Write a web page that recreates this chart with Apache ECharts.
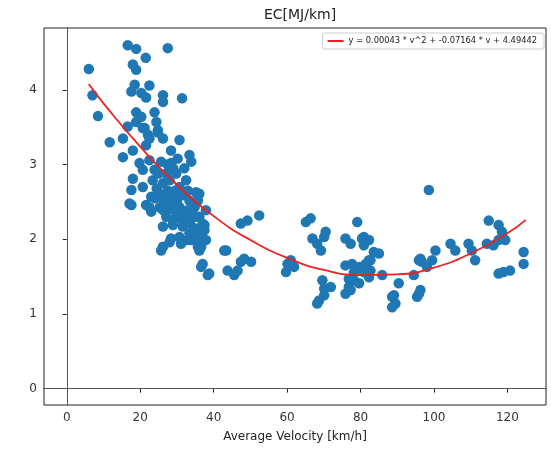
<!DOCTYPE html>
<html><head><meta charset="utf-8">
<script src="https://cdn.jsdelivr.net/npm/echarts@6/dist/echarts.min.js"></script>
<style>html,body{margin:0;padding:0;background:#fff}#c{width:551px;height:449px}</style>
</head><body><div id="c"></div>
<script>
var chartTitle = 'EC[MJ/km]';
var xAxisName = 'Average Velocity [km/h]';
var legendLabel = 'y = 0.00043 * v^2 + -0.07164 * v + 4.49442';
var xTicks = [0, 20, 40, 60, 80, 100, 120];
var yTicks = [0, 1, 2, 3, 4];
// measured points [velocity, EC]
var points = [
[16.6,4.60],[18.9,4.55],[27.5,4.56],[21.5,4.43],[6.0,4.28],[18.0,4.34],[18.9,4.27],[18.5,4.07],[22.5,4.06],[17.6,3.98],
[20.3,3.96],[21.6,3.90],[26.2,3.93],[26.2,3.84],[31.4,3.89],[7.0,3.93],[8.5,3.65],[18.9,3.70],[20.3,3.64],[23.9,3.70],
[18.9,3.57],[24.4,3.57],[20.7,3.49],[24.8,3.46],[16.6,3.51],[15.3,3.35],[11.7,3.30],[26.2,3.35],[30.7,3.33],[22.5,3.35],
[21.2,3.49],[15.3,3.10],[18.0,3.19],[21.6,3.26],[24.8,3.43],[22.1,3.40],[28.4,3.19],[30.2,3.08],[33.4,3.13],[33.9,3.04],
[19.8,3.02],[22.5,3.06],[25.7,3.04],[28.4,3.02],[20.7,2.93],[23.9,2.93],[27.1,2.88],[29.8,2.88],[32.0,2.95],[18.0,2.81],
[17.6,2.66],[17.1,2.48],[20.7,2.70],[23.4,2.79],[26.2,2.75],[28.0,2.79],[30.7,2.70],[32.5,2.79],[35.2,2.63],[35.7,2.52],
[22.5,2.43],[23.0,2.57],[25.3,2.61],[27.1,2.55],[29.3,2.57],[31.6,2.59],[33.4,2.52],[25.3,2.43],[28.0,2.41],[30.7,2.43],
[32.9,2.39],[34.8,2.43],[27.1,2.30],[29.8,2.30],[32.5,2.28],[36.1,2.30],[37.9,2.39],[26.2,2.17],[28.9,2.19],[31.6,2.17],
[35.2,2.14],[37.5,2.19],[28.4,2.01],[30.7,2.03],[32.9,1.99],[26.2,1.90],[36.1,2.03],[37.9,1.99],[17.6,2.46],[21.6,2.46],
[23.0,2.37],[26.2,2.39],[28.9,2.26],[35.2,2.30],[33.4,2.08],[35.7,2.12],[28.0,1.96],[31.1,1.94],[33.9,1.99],[36.1,1.96],
[25.7,1.85],[36.1,1.85],[37.0,1.67],[36.6,1.63],[42.9,1.85],[35.7,1.90],[27.5,2.65],[29.5,2.65],[24.5,2.68],[26.5,2.50],
[28.5,2.50],[30.0,2.50],[31.0,2.38],[33.5,2.22],[34.0,2.35],[29.0,2.40],[31.5,2.25],[30.0,2.60],[25.0,2.88],[27.5,3.00],
[29.0,2.95],[24.0,2.55],[33.0,2.65],[35.0,2.00],[34.5,2.15],[36.1,2.61],[37.0,2.21],[37.5,2.12],[36.6,1.90],[38.4,1.52],
[47.4,2.21],[49.2,2.25],[52.4,2.32],[43.4,1.85],[43.8,1.58],[45.6,1.52],[46.5,1.58],[47.4,1.70],[48.3,1.74],[50.2,1.70],
[59.7,1.56],[60.1,1.67],[61.0,1.72],[61.9,1.63],[65.1,2.23],[66.4,2.28],[66.9,2.01],[68.2,1.94],[69.2,1.85],[70.5,2.10],
[70.1,2.03],[69.6,1.45],[68.7,1.18],[68.2,1.14],[70.1,1.25],[70.1,1.34],[71.9,1.36],[38.8,1.54],[75.9,2.01],[77.3,1.94],
[79.1,2.23],[80.4,2.01],[80.9,2.03],[80.9,1.92],[85.0,1.81],[75.9,1.65],[77.7,1.67],[79.6,1.63],[81.4,1.67],[82.3,1.72],
[83.6,1.83],[78.2,1.56],[80.9,1.56],[82.7,1.58],[85.9,1.52],[76.8,1.47],[78.2,1.45],[79.6,1.41],[75.9,1.27],[77.3,1.32],
[76.8,1.36],[88.6,1.23],[89.5,1.14],[88.6,1.09],[89.1,1.25],[94.5,1.52],[95.9,1.72],[98.6,2.66],[96.3,1.74],[96.7,1.70],
[99.5,1.72],[98.1,1.63],[100.4,1.85],[95.4,1.23],[95.9,1.27],[96.3,1.32],[90.4,1.41],[82.3,1.49],[82.3,1.99],[82.7,1.72],
[104.5,1.94],[105.8,1.85],[109.4,1.94],[110.3,1.85],[111.2,1.72],[114.4,1.94],[114.9,2.25],[116.2,1.92],[117.6,2.19],[117.6,1.99],
[118.5,2.10],[118.9,2.01],[119.4,1.99],[117.6,1.54],[118.9,1.56],[120.7,1.58],[124.4,1.83],[124.4,1.67]
];
// fitted curve
var fitV = [6, 10, 20, 30, 40, 50, 60, 70, 80, 90, 100, 110, 120, 125];
var fitEC = [4.08, 3.82, 3.24, 2.73, 2.31, 1.99, 1.75, 1.59, 1.52, 1.53, 1.62, 1.81, 2.08, 2.26];

var fitData = fitV.map(function(v, i){ return [v, fitEC[i]]; });
var font = 'DejaVu Sans';
var chart = echarts.init(document.getElementById('c'), null, {renderer: 'canvas'});
chart.setOption({
  animation: false,
  backgroundColor: '#fff',
  title: {text: chartTitle, left: 295, top: 3, textAlign: 'center',
    textStyle: {fontFamily: font, fontSize: 14, fontWeight: 'normal', color: '#222'}},
  legend: {
    right: 7, top: 33, orient: 'horizontal',
    data: [legendLabel],
    itemWidth: 16, itemHeight: 2, itemGap: 4,
    padding: [4, 7, 4, 5],
    borderColor: '#ccc', borderWidth: 1, borderRadius: 2,
    backgroundColor: 'rgba(255,255,255,0.8)',
    textStyle: {fontFamily: font, fontSize: 8.3, color: '#222'},
    icon: 'rect'
  },
  grid: {left: 44, right: 5, top: 28, bottom: 44, show: true, borderColor: '#222', borderWidth: 1, backgroundColor: 'transparent'},
  xAxis: {
    type: 'value', min: -6.2, max: 130.5,
    name: xAxisName, nameLocation: 'middle', nameGap: 26,
    nameTextStyle: {fontFamily: font, fontSize: 12, color: '#222'},
    axisLine: {show: true, lineStyle: {color: '#222'}},
    axisTick: {show: true, inside: false, length: 4, lineStyle: {color: '#222'}, customValues: xTicks},
    axisLabel: {fontFamily: font, fontSize: 12, color: '#333', margin: 7, customValues: xTicks},
    splitLine: {show: false}
  },
  yAxis: {
    type: 'value', min: -0.22, max: 4.83,
    axisLine: {show: true, lineStyle: {color: '#222'}},
    axisTick: {show: true, inside: false, length: 4, lineStyle: {color: '#222'}, customValues: yTicks},
    axisLabel: {fontFamily: font, fontSize: 12, color: '#333', margin: 7, customValues: yTicks},
    splitLine: {show: false}
  },
  series: [
    {
      type: 'scatter', name: 'data', data: points, symbolSize: 10.5,
      itemStyle: {color: '#1f77b4', opacity: 1},
      markLine: {
        silent: true, symbol: ['none', 'none'], label: {show: false},
        lineStyle: {color: '#555', width: 1, type: 'solid'},
        data: [{xAxis: 0}, {yAxis: 0}]
      },
      z: 2
    },
    {
      type: 'line', name: legendLabel, data: fitData, smooth: true, showSymbol: false,
      lineStyle: {color: '#f02020', width: 1.8}, itemStyle: {color: '#f02020'}, z: 3
    }
  ]
});
</script></body></html>
